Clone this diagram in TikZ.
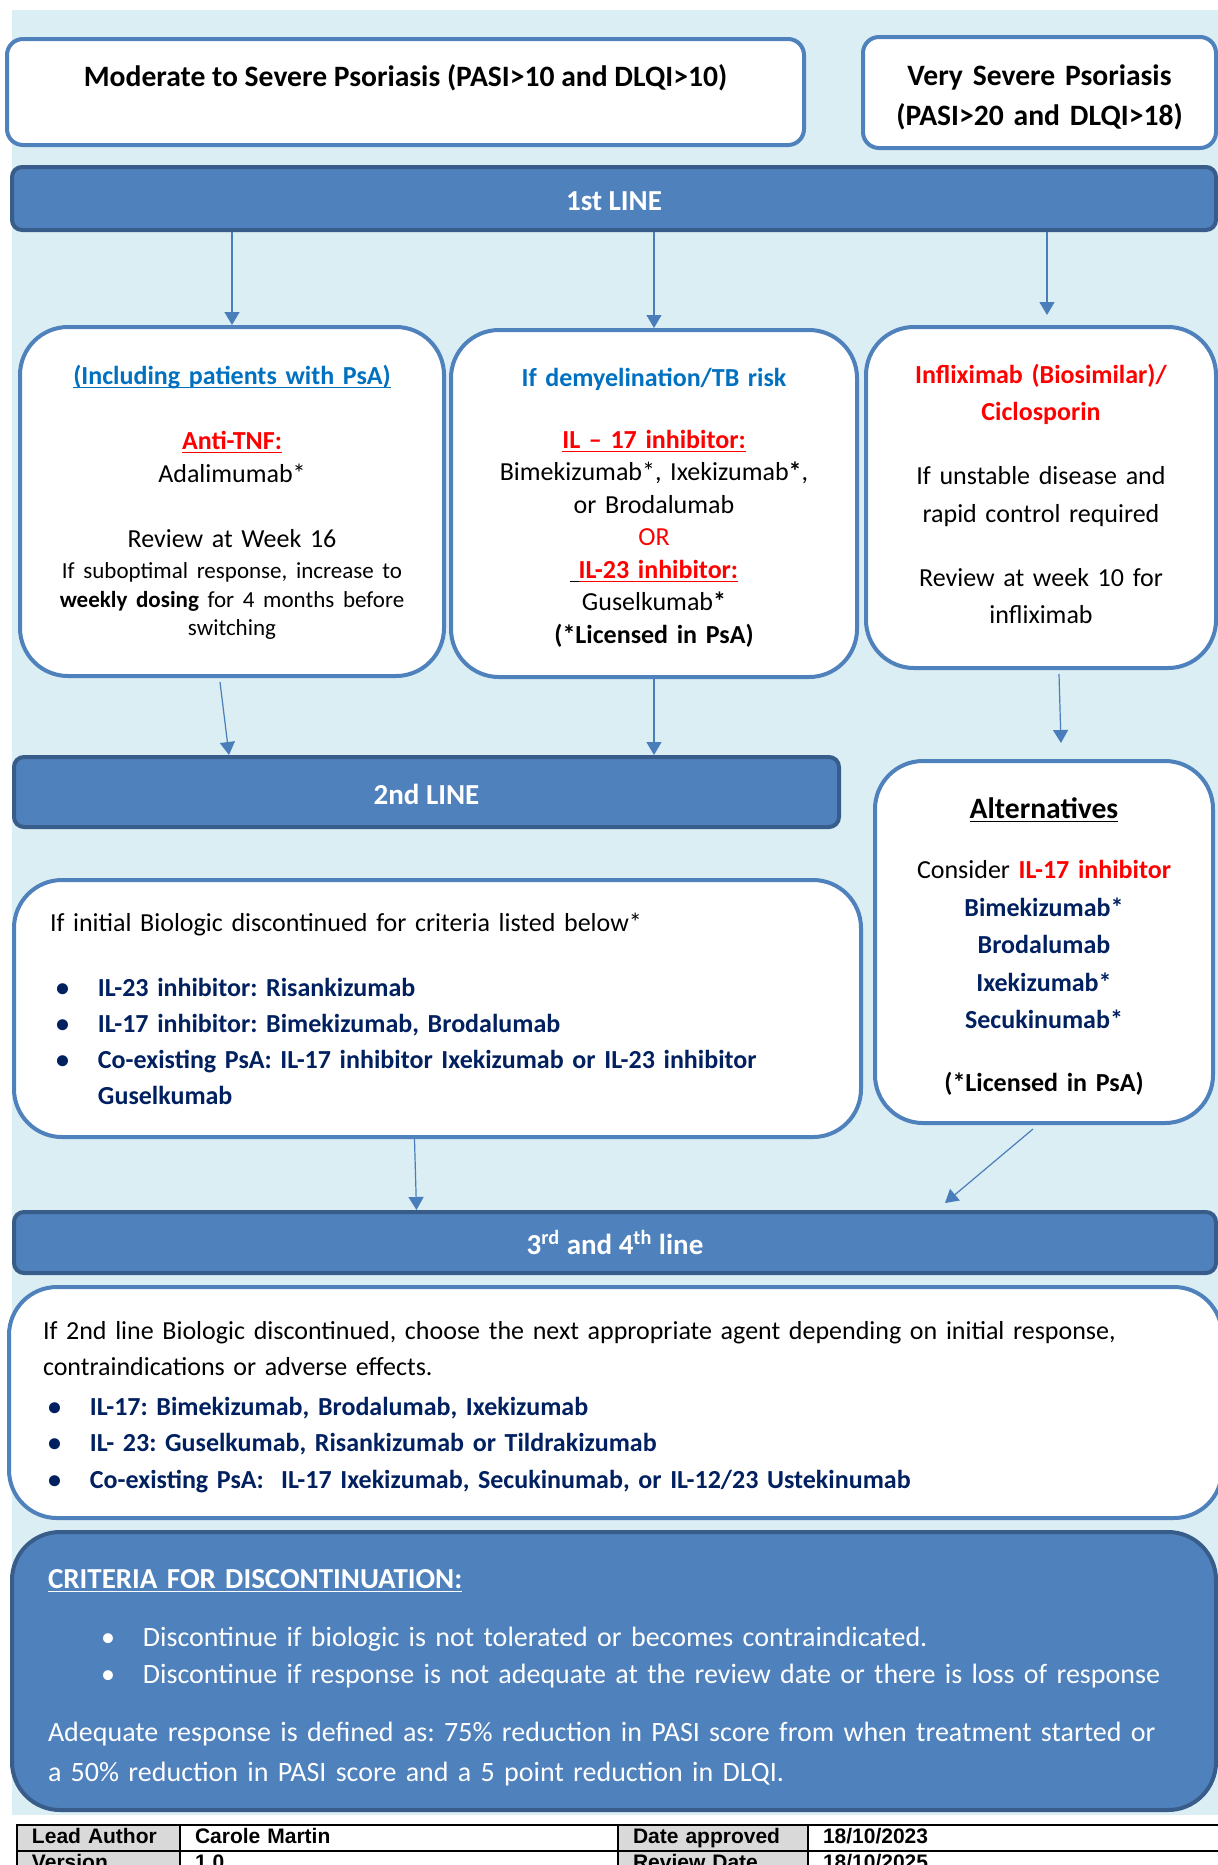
\documentclass[tikz,border=0pt]{standalone}
\usepackage{fontspec}
\setmainfont{Carlito}
\newfontfamily\arialfont{Liberation Sans}
\usepackage{tikz}
\usetikzlibrary{arrows.meta,positioning,calc}
\frenchspacing
\definecolor{bgblue}{HTML}{DAEEF3}
\definecolor{boxblue}{HTML}{4F81BD}
\definecolor{bardark}{HTML}{385D8A}
\definecolor{arrowblue}{HTML}{4A7EBB}
\definecolor{linkblue}{HTML}{0070C0}
\definecolor{drugnavy}{HTML}{002060}
\definecolor{cellgray}{HTML}{D9D9D9}
\newcommand{\ulin}[1]{\underline{\raisebox{0pt}[\height][0pt]{#1}}}
\newcommand{\redul}[1]{\textcolor{red}{\textbf{\ulin{#1}}}}
\newcommand{\blt}{\makebox[21pt][l]{\textbullet}}
\newcommand{\padtop}[2]{\raisebox{0pt}[\dimexpr\height+#1\relax]{#2}}
\newcommand{\padbot}[2]{\raisebox{0pt}[\height][\dimexpr\depth+#1\relax]{#2}}

\begin{document}
\begin{tikzpicture}[x=0.5pt,y=-0.5pt,>={Triangle[width=7.5pt,length=6.5pt]},
  font=\fontsize{13}{16.25}\selectfont,
  topbox/.style={draw=boxblue,line width=2pt,fill=white,rounded corners=8pt,align=center,inner sep=0pt,font=\fontsize{14.8}{20.2}\selectfont\bfseries},
  linebar/.style={draw=bardark,line width=2pt,fill=boxblue,rounded corners=5pt,inner sep=0pt,text=white,text height=12pt,text depth=0pt,font=\fontsize{14.5}{16}\selectfont\bfseries},
  rbox/.style={draw=boxblue,line width=2pt,fill=white,rounded corners=24pt,align=center,inner sep=0pt},
  critbox/.style={draw=bardark,line width=2pt,fill=boxblue,rounded corners=24pt,align=left,inner sep=0pt,text=white},
  tcell/.style={draw=black,line width=1pt,anchor=north west,align=left,inner xsep=7.5pt,inner ysep=0pt,minimum height=13pt,text height=7.6pt,text depth=2pt,font=\arialfont\fontsize{10.5}{12}\selectfont\bfseries},
  thead/.style={tcell,fill=cellgray},
  flow/.style={->,draw=arrowblue,line width=0.6pt}]
\useasboundingbox (0,0) rectangle (1218,1865);
\fill[bgblue] (12,10) rectangle (1230,1815);

% entry criteria
\node[topbox,minimum width=398.5pt,minimum height=53pt,text height=10pt,text depth=16pt] (modsev) at (405.5,92) {Moderate to Severe Psoriasis (PASI>10 and DLQI>10)};
\node[topbox,minimum width=176.5pt,minimum height=55.5pt,text width=170pt] (vsev) at (1039.5,92.5) {\padtop{4.8pt}{Very Severe Psoriasis}\\(PASI>20 and DLQI>18)};

% 1st line
\node[linebar,minimum width=602pt,minimum height=31.5pt] (lineone) at (614,198.5) {1st LINE};
\node[rbox,minimum width=212pt,minimum height=174.5pt,text width=200pt] (antitnf) at (232,501.5) {%
\padtop{1pt}{\textcolor{linkblue}{\textbf{\ulin{(Including patients with PsA)}}}}\\[16.25pt]
\redul{Anti-TNF:}\\
Adalimumab*\\[16.25pt]
Review at Week 16\\[1.5pt]
{\fontsize{11.5}{14.3}\selectfont If suboptimal response, increase to\\
\textbf{weekly dosing} for 4 months before\\
switching\par}};
\node[rbox,minimum width=203pt,minimum height=173.5pt,text width=195pt] (demyel) at (654,503.5) {%
\padtop{4.2pt}{\textcolor{linkblue}{\textbf{If demyelination/TB risk}}}\\[14.7pt]
\redul{IL -- 17 inhibitor:}\\
Bimekizumab*, Ixekizumab\textbf{*},\\
or Brodalumab\\
\textcolor{red}{OR}\\
\ulin{\ }\redul{IL-23 inhibitor:}\\
Guselkumab\textbf{*}\\
\textbf{(*Licensed in PsA)}};
\node[rbox,minimum width=175pt,minimum height=170.5pt,text width=165pt,font=\fontsize{13}{18.75}\selectfont] (inflix) at (1041,497.5) {%
\textcolor{red}{\textbf{Infliximab (Biosimilar)/}}\\
\textcolor{red}{\textbf{Ciclosporin}}\\[13.25pt]
If unstable disease and\\
rapid control required\\[13.25pt]
Review at week 10 for\\
\padbot{3.6pt}{infliximab}};

% 2nd line
\node[linebar,minimum width=412.5pt,minimum height=35pt] (linetwo) at (426.5,792) {2nd LINE};
\node[rbox,minimum width=423.5pt,minimum height=128.5pt,text width=387.5pt,align=left,font=\fontsize{13}{18}\selectfont] (secondbox) at (437.5,1008.5) {%
If initial Biologic discontinued for criteria listed below*\\[14.5pt]
{\color{drugnavy}\bfseries
\hspace*{3pt}\blt IL-23 inhibitor: Risankizumab\\
\hspace*{3pt}\blt IL-17 inhibitor: Bimekizumab, Brodalumab\\
\hspace*{3pt}\blt Co-existing PsA: IL-17 inhibitor Ixekizumab or IL-23 inhibitor\\
\hspace*{24pt}Guselkumab\par}};
\node[rbox,minimum width=169pt,minimum height=181pt,text width=160pt,font=\fontsize{13}{18.75}\selectfont] (alts) at (1044,942) {%
\padtop{4.8pt}{\fontsize{14.8}{18.75}\selectfont\textbf{\ulin{Alternatives}}}\\[11.25pt]
Consider \textcolor{red}{\textbf{IL-17 inhibitor}}\\
{\color{drugnavy}\bfseries Bimekizumab*\\
Brodalumab\\
Ixekizumab*\\
Secukinumab*}\\[12.75pt]
\textbf{(*Licensed in PsA)}};

% 3rd and 4th line
\node[linebar,minimum width=601pt,minimum height=30.5pt] (linethree) at (615,1242.5) {3\textsuperscript{rd} and 4\textsuperscript{th} line};
\node[rbox,minimum width=606.5pt,minimum height=115.5pt,text width=572.5pt,align=left,font=\fontsize{13}{18.25}\selectfont] (thirdbox) at (615.5,1402.5) {%
\padtop{4.2pt}{If 2nd line Biologic discontinued, choose the next appropriate agent depending on initial response,}\\[-0.25pt]
contraindications or adverse effects.\\[1.75pt]
{\color{drugnavy}\bfseries
\hspace*{2.5pt}\blt IL-17: Bimekizumab, Brodalumab, Ixekizumab\\
\hspace*{2.5pt}\blt IL- 23: Guselkumab, Risankizumab or Tildrakizumab\\
\hspace*{2.5pt}\blt Co-existing PsA:\ \ IL-17 Ixekizumab, Secukinumab, or IL-12/23 Ustekinumab\par}};

% discontinuation
\node[critbox,minimum width=602pt,minimum height=139pt,text width=566pt,font=\fontsize{14}{18.5}\selectfont] (criteria) at (614,1671) {%
\padtop{7pt}{\fontsize{14.5}{18.5}\selectfont\textbf{\ulin{CRITERIA FOR DISCONTINUATION:}}}\\[10.5pt]
\hspace*{26.5pt}\blt\mbox{Discontinue if biologic is not tolerated or becomes contraindicated.}\\
\hspace*{26.5pt}\blt\mbox{Discontinue if response is not adequate at the review date or there is loss of response}\\[10.5pt]
\mbox{Adequate response is defined as: 75\% reduction in PASI score from when treatment started or}\\[1.5pt]
\mbox{a 50\% reduction in PASI score and a 5 point reduction in DLQI.}};

% connectors
\draw[flow] (antitnf.north |- lineone.south) -- (antitnf.north);
\draw[flow] (demyel.north |- lineone.south) -- (demyel.north);
\draw[flow] ($(inflix.north |- lineone.south)+(6,0)$) -- ($(inflix.north)+(6,-10)$);
\draw[flow] ($(antitnf.south)+(-12,4)$) -- ($(antitnf.south |- linetwo.north)+(-3,0)$);
\draw[flow] (demyel.south) -- (demyel.south |- linetwo.north);
\draw[flow] ($(inflix.south)+(18,4)$) -- ($(alts.north)+(17,-16)$);
\draw[flow] ($(secondbox.south)+(-23,0)$) -- ($(secondbox.south |- linethree.north)+(-21,0)$);
\draw[flow] ($(alts.south)+(-11,4)$) -- ($(linethree.north)+(330,-7)$);

% footer table
\node[thead,text width=66.5pt] (leadlbl) at (16,1824) {Lead Author};
\node[tcell,text width=204pt] (leadval) at (179,1824) {Carole Martin};
\node[thead,text width=80pt] (datelbl) at (617,1824) {Date approved};
\node[tcell,text width=196.5pt] (dateval) at (807,1824) {18/10/2023};
\node[thead,text width=66.5pt] (verlbl) at (16,1850) {Version};
\node[tcell,text width=204pt] (verval) at (179,1850) {1.0};
\node[thead,text width=80pt] (revlbl) at (617,1850) {Review Date};
\node[tcell,text width=196.5pt] (revval) at (807,1850) {18/10/2025};
\end{tikzpicture}
\end{document}
